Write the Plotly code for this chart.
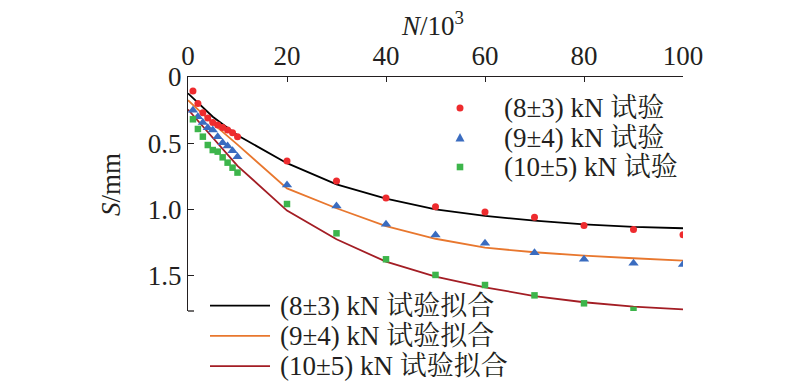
import plotly.graph_objects as go

# ---- data ----
N_test = [1, 2, 3, 4, 5, 6, 7, 8, 9, 10, 20, 30, 40, 50, 60, 70, 80, 90, 100]
S_8 = [0.106, 0.199, 0.269, 0.309, 0.344, 0.362, 0.380, 0.400, 0.420, 0.450,
       0.633, 0.784, 0.912, 0.978, 1.018, 1.058, 1.121, 1.151, 1.189]
S_9 = [0.250, 0.299, 0.344, 0.382, 0.400, 0.450, 0.495, 0.520, 0.556, 0.601,
       0.815, 0.973, 1.111, 1.192, 1.254, 1.325, 1.375, 1.405, 1.415]
N_test10 = [1, 2, 3, 4, 5, 6, 7, 8, 9, 10, 20, 30, 40, 50, 60, 70, 80, 90]
S_10 = [0.319, 0.392, 0.450, 0.513, 0.551, 0.563, 0.606, 0.646, 0.684, 0.721,
        0.958, 1.179, 1.375, 1.493, 1.569, 1.647, 1.707, 1.757]

N_fit = [0, 5, 10, 20, 30, 40, 50, 60, 70, 80, 90, 100]
F_8 = [0.123, 0.300, 0.440, 0.650, 0.810, 0.918, 0.998, 1.048, 1.083, 1.111, 1.131, 1.141]
F_9 = [0.175, 0.350, 0.510, 0.840, 0.990, 1.124, 1.220, 1.287, 1.322, 1.348, 1.367, 1.385]
F_10 = [0.245, 0.460, 0.670, 1.008, 1.224, 1.393, 1.506, 1.586, 1.652, 1.699, 1.732, 1.752]

test_names = ["(8±3) kN 试验", "(9±4) kN 试验", "(10±5) kN 试验"]
fit_names = ["(8±3) kN 试验拟合", "(9±4) kN 试验拟合", "(10±5) kN 试验拟合"]

x_ticks = [0, 20, 40, 60, 80, 100]
y_ticks = [0, 0.5, 1.0, 1.5]
y_tick_text = ["0", "0.5", "1.0", "1.5"]

FONT = "Liberation Serif, Times New Roman, Noto Serif CJK SC, Noto Sans CJK SC, serif"
TXT = "#231f20"
FS = 27
RED, BLUE, GREEN = "#ee2b2e", "#3a6cc0", "#3db54b"
LINE_COLORS = ["#000000", "#e8772e", "#a31d24"]

# page offset of the plotly div (body margin)
OFF = 8
W, H = 800, 385
# desired on-screen plot area
X0, X1, Y0, Y1 = 188, 683, 77, 311
ML, MT = X0 - OFF, Y0 - OFF
MR, MB = W - (X1 - OFF), H - (Y1 - OFF)
PW, PH = X1 - X0, Y1 - Y0

def px2paper(px, py):
    return (px - X0) / PW, (Y1 - py) / PH

fig = go.Figure()

for i, (ys, col) in enumerate(zip([F_8, F_9, F_10], LINE_COLORS)):
    fig.add_trace(go.Scatter(x=N_fit, y=ys, mode="lines", name=fit_names[i],
                             line=dict(color=col, width=1.8), showlegend=False))

markers = [("circle", RED, 7, N_test, S_8), ("triangle-up", BLUE, 9, N_test, S_9),
           ("square", GREEN, 6.5, N_test10, S_10)]
for i, (sym, col, sz, xs, ys) in enumerate(markers):
    fig.add_trace(go.Scatter(x=xs, y=ys, mode="markers", name=test_names[i], showlegend=False,
                             marker=dict(symbol=sym, color=col, size=sz, line=dict(width=0))))

shapes = []
annotations = []

def txt(px, py, s, anchor="left", angle=0):
    x, y = px2paper(px, py)
    annotations.append(dict(xref="paper", yref="paper", x=x, y=y, text=s, showarrow=False,
                            xanchor=anchor, yanchor="middle", textangle=angle,
                            font=dict(size=FS, color=TXT, family=FONT)))

# legend for test markers (manual)
for i, name in enumerate(test_names):
    py = 108 + i * 29.5
    cx, cy = px2paper(460, py)
    dx, dy = 3.5 / PW, 3.5 / PH
    if i == 0:
        shapes.append(dict(type="circle", xref="paper", yref="paper", x0=cx - dx, x1=cx + dx,
                           y0=cy - dy, y1=cy + dy, fillcolor=RED, line=dict(width=0)))
    elif i == 1:
        a, b = 4.5 / PW, 4.0 / PH
        shapes.append(dict(type="path", xref="paper", yref="paper",
                           path=f"M {cx - a} {cy - b} L {cx + a} {cy - b} L {cx} {cy + b * 1.1} Z",
                           fillcolor=BLUE, line=dict(width=0)))
    else:
        a, b = 3.3 / PW, 3.3 / PH
        shapes.append(dict(type="rect", xref="paper", yref="paper", x0=cx - a, x1=cx + a,
                           y0=cy - b, y1=cy + b, fillcolor=GREEN, line=dict(width=0)))
    txt(502, py, name)

# legend for fitted lines (manual)
for i, (name, col) in enumerate(zip(fit_names, LINE_COLORS)):
    py = 305.7 + i * 30.2
    x0, y0 = px2paper(210, py)
    x1, _ = px2paper(270, py)
    shapes.append(dict(type="line", xref="paper", yref="paper", x0=x0, x1=x1, y0=y0, y1=y0,
                       line=dict(color=col, width=1.8)))
    txt(278, py, name)

# small hook at the bottom end of the y axis
shapes.append(dict(type="line", xref="paper", yref="paper", x0=0, x1=6 / PW, y0=0, y1=0,
                   line=dict(color=TXT, width=1.3)))

# axis titles
txt(432, 24, "<i>N</i>/10<sup>3</sup>", anchor="center")
txt(111, 185, "<i>S</i>/mm", anchor="center", angle=-90)

fig.update_layout(
    width=W, height=H, margin=dict(l=ML, r=MR, t=MT, b=MB),
    paper_bgcolor="white", plot_bgcolor="white",
    font=dict(family=FONT, size=FS, color=TXT),
    showlegend=False,
    shapes=shapes, annotations=annotations,
    xaxis=dict(side="top", range=[0, 100], tickvals=x_ticks, ticks="inside", ticklen=5,
               tickcolor=TXT, showline=True, linecolor=TXT, linewidth=1.3,
               showgrid=False, zeroline=False, tickfont=dict(size=FS, family=FONT, color=TXT)),
    yaxis=dict(range=[1.765, 0], tickvals=y_ticks, ticktext=y_tick_text,
               ticks="inside", ticklen=6, tickcolor=TXT, showline=True,
               linecolor=TXT, linewidth=1.3, showgrid=False, zeroline=False,
               tickfont=dict(size=FS, family=FONT, color=TXT)),
)

fig.write_html("out.html")
